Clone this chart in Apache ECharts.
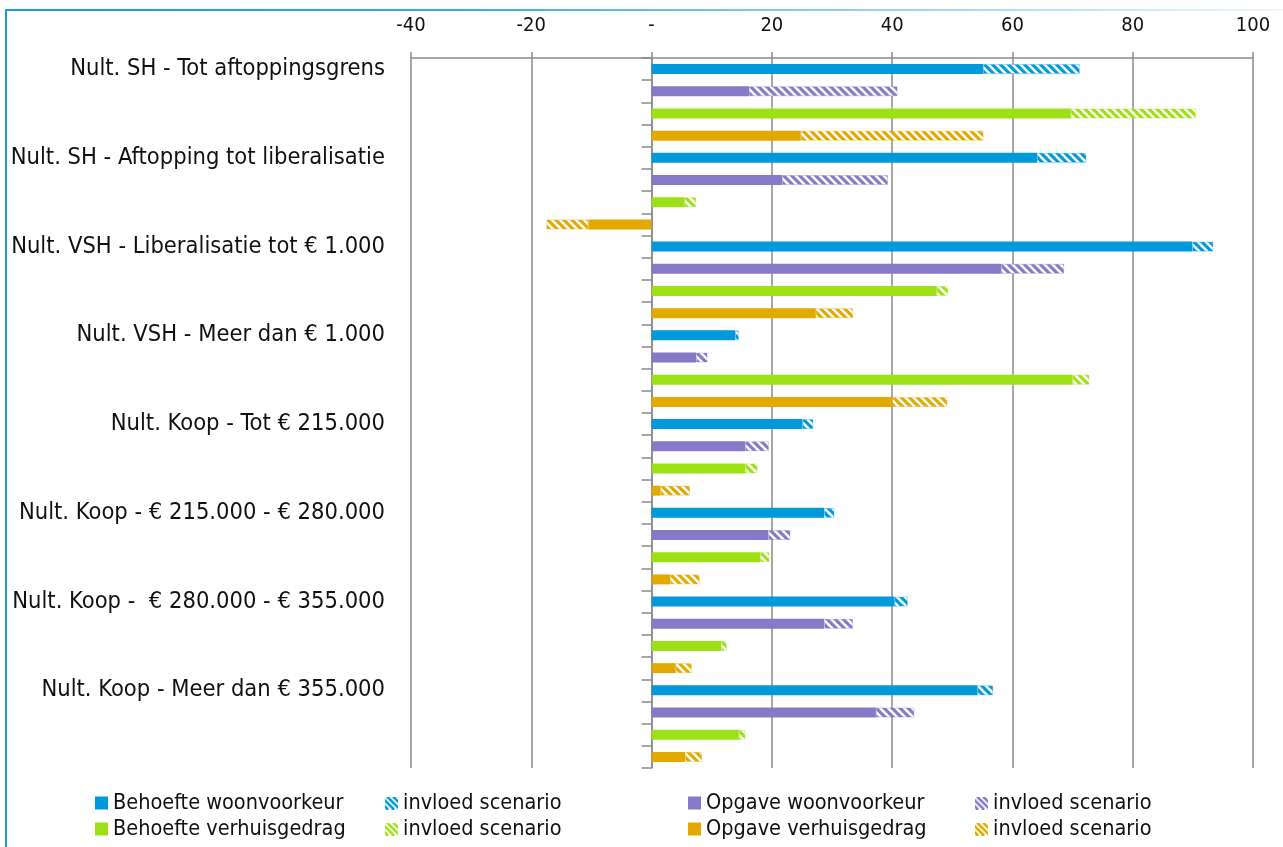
<!DOCTYPE html>
<html>
<head>
<meta charset="utf-8">
<script src="https://cdn.jsdelivr.net/npm/echarts@6/dist/echarts.min.js"></script>
<style>
html,body{margin:0;padding:0;background:#fff;}
#chart{width:1283px;height:847px;}
</style>
</head>
<body>
<div id="chart"></div>
<script>
// ---- DATA ----
const categories = [
  'Nult. SH - Tot aftoppingsgrens',
  'Nult. SH - Aftopping tot liberalisatie',
  'Nult. VSH - Liberalisatie tot € 1.000',
  'Nult. VSH - Meer dan € 1.000',
  'Nult. Koop - Tot € 215.000',
  'Nult. Koop - € 215.000 - € 280.000',
  'Nult. Koop -  € 280.000 - € 355.000',
  'Nult. Koop - Meer dan € 355.000'
];
const behoefteWoonvoorkeur   = [55.1, 64.1, 89.9, 13.9, 25.1, 28.7, 40.4, 54.2];
const scenarioBehoefteWoon   = [16.1,  8.2,  3.5,  0.6,  1.8,  1.7,  2.2,  2.6];
const opgaveWoonvoorkeur     = [16.2, 21.7, 58.1,  7.4, 15.6, 19.4, 28.7, 37.3];
const scenarioOpgaveWoon     = [24.7, 17.6, 10.5,  1.9,  3.9,  3.7,  4.8,  6.4];
const behoefteVerhuisgedrag  = [69.7,  5.5, 47.4, 70.0, 15.6, 18.1, 11.6, 14.5];
const scenarioBehoefteVerh   = [20.8,  1.9,  1.9,  2.8,  2.0,  1.5,  0.9,  1.1];
const opgaveVerhuisgedrag    = [24.8, -10.5, 27.3, 40.0, 1.5,  3.1,  4.0,  5.6];
const scenarioOpgaveVerh     = [30.4, -7.0,  6.2,  9.2,  4.9,  4.9,  2.7,  2.8];
const xTicks = [-40, -20, 0, 20, 40, 60, 80, 100];

// ---- BUILD ----
const FONT = '"DejaVu Sans Condensed","Liberation Sans Narrow","DejaVu Sans",sans-serif';
const colors = ['#0099d9', '#8779c7', '#9de015', '#e2a900'];
const lightColors = ['rgba(0,153,217,0.35)', 'rgba(135,121,199,0.35)', 'rgba(157,224,21,0.35)', 'rgba(226,169,0,0.35)'];
const nRows = categories.length * 4;
const rowIds = Array.from({length: nRows}, (_, i) => 'r' + i);

function makePattern(color, size) {
  const c = document.createElement('canvas');
  c.width = size; c.height = size;
  const ctx = c.getContext('2d');
  ctx.fillStyle = '#fff';
  ctx.fillRect(0, 0, size, size);
  ctx.strokeStyle = color;
  ctx.lineWidth = 3.1;
  ctx.beginPath();
  for (let k = -size; k <= size; k += 8) {
    ctx.moveTo(k - 1, -1);
    ctx.lineTo(k + size + 1, size + 1);
  }
  ctx.stroke();
  return c;
}
function makeIcon(color) {
  const c = document.createElement('canvas');
  c.width = 13; c.height = 13;
  const ctx = c.getContext('2d');
  ctx.fillStyle = '#fff';
  ctx.fillRect(0, 0, 13, 13);
  ctx.strokeStyle = color;
  ctx.lineWidth = 2.5;
  ctx.beginPath();
  for (let k = -16; k <= 16; k += 6) {
    ctx.moveTo(k, 0);
    ctx.lineTo(k + 13, 13);
  }
  ctx.stroke();
  return c.toDataURL();
}
function rowData(values, slot) {
  const d = new Array(nRows).fill('-');
  values.forEach((v, g) => { d[g * 4 + slot] = v; });
  return d;
}

const groups = [
  {name: 'Behoefte woonvoorkeur', sid: 'invloed scenario ', base: behoefteWoonvoorkeur, extra: scenarioBehoefteWoon, slot: 0},
  {name: 'Opgave woonvoorkeur', sid: 'invloed scenario  ', base: opgaveWoonvoorkeur, extra: scenarioOpgaveWoon, slot: 1},
  {name: 'Behoefte verhuisgedrag', sid: 'invloed scenario   ', base: behoefteVerhuisgedrag, extra: scenarioBehoefteVerh, slot: 2},
  {name: 'Opgave verhuisgedrag', sid: 'invloed scenario    ', base: opgaveVerhuisgedrag, extra: scenarioOpgaveVerh, slot: 3}
];

const series = [];
groups.forEach(g => {
  const col = colors[g.slot];
  series.push({
    name: g.name, type: 'bar', stack: 'all', yAxisIndex: 0, barWidth: 10,
    itemStyle: {color: col},
    data: rowData(g.base, g.slot)
  });
  series.push({
    name: g.sid, type: 'bar', stack: 'all', yAxisIndex: 0, barWidth: 10,
    itemStyle: {color: {image: makePattern(col, 8), repeat: 'repeat'}, borderColor: lightColors[g.slot], borderWidth: 1},
    data: rowData(g.extra, g.slot)
  });
});

const legendCols = [95, 385, 688, 975];
const legendRows = [791, 817];
const legends = [];
groups.forEach((g, i) => {
  const row = i < 2 ? 0 : 1;
  const colBase = (i % 2) * 2;
  const common = {
    orient: 'horizontal', itemWidth: 13, itemHeight: 13, padding: 0,
    selectedMode: false,
    textStyle: {fontFamily: FONT, fontSize: 21.5, color: '#111', lineHeight: 24}
  };
  legends.push(Object.assign({}, common, {
    left: legendCols[colBase], top: legendRows[row],
    data: [{name: g.name, icon: 'rect'}]
  }));
  legends.push(Object.assign({}, common, {
    left: legendCols[colBase + 1], top: legendRows[row],
    data: [{name: g.sid, icon: 'image://' + makeIcon(colors[g.slot])}],
    formatter: () => 'invloed scenario'
  }));
});

const chart = echarts.init(document.getElementById('chart'), null, {renderer: 'canvas'});
chart.setOption({
  animation: false,
  backgroundColor: '#fff',
  grid: {left: 411, right: 30, top: 58, bottom: 79, containLabel: false},
  legend: legends,
  xAxis: {
    type: 'value', position: 'top', min: xTicks[0], max: xTicks[xTicks.length - 1], interval: 20,
    axisLine: {show: true, lineStyle: {color: '#8a8a8a', width: 1.5}},
    axisTick: {show: true, length: 6, lineStyle: {color: '#8a8a8a', width: 1.5}},
    splitLine: {show: true, lineStyle: {color: '#8a8a8a', width: 1.5}},
    axisLabel: {
      fontFamily: FONT, fontSize: 20, color: '#111', margin: 22,
      formatter: v => (v === 0 ? '-' : String(v))
    }
  },
  yAxis: [
    {
      type: 'category', data: rowIds, inverse: true,
      axisLine: {show: true, onZero: true, lineStyle: {color: '#8a8a8a', width: 1.5}},
      axisTick: {show: true, length: 10, lineStyle: {color: '#8a8a8a', width: 1.5}},
      axisLabel: {show: false}
    },
    {
      type: 'category', data: rowIds, inverse: true, position: 'left',
      axisLine: {show: false, onZero: false}, axisTick: {show: false},
      axisLabel: {
        show: true, interval: 0, margin: 26,
        fontFamily: FONT, fontSize: 23.5, color: '#111',
        formatter: (v, i) => (i % 4 === 0 ? categories[i / 4] : '')
      }
    }
  ],
  graphic: [
    {type: 'rect', shape: {x: 5, y: 9, width: 2, height: 840}, style: {fill: '#1a9ad8'}, silent: true},
    {type: 'rect', shape: {x: 5, y: 9, width: 1278, height: 2}, silent: true,
      style: {fill: new echarts.graphic.LinearGradient(0, 0, 1, 0, [
        {offset: 0, color: '#1a9ad8'}, {offset: 0.35, color: '#3aa9de'}, {offset: 1, color: '#eef7fc'}
      ])}}
  ],
  series: series
});
</script>
</body>
</html>
